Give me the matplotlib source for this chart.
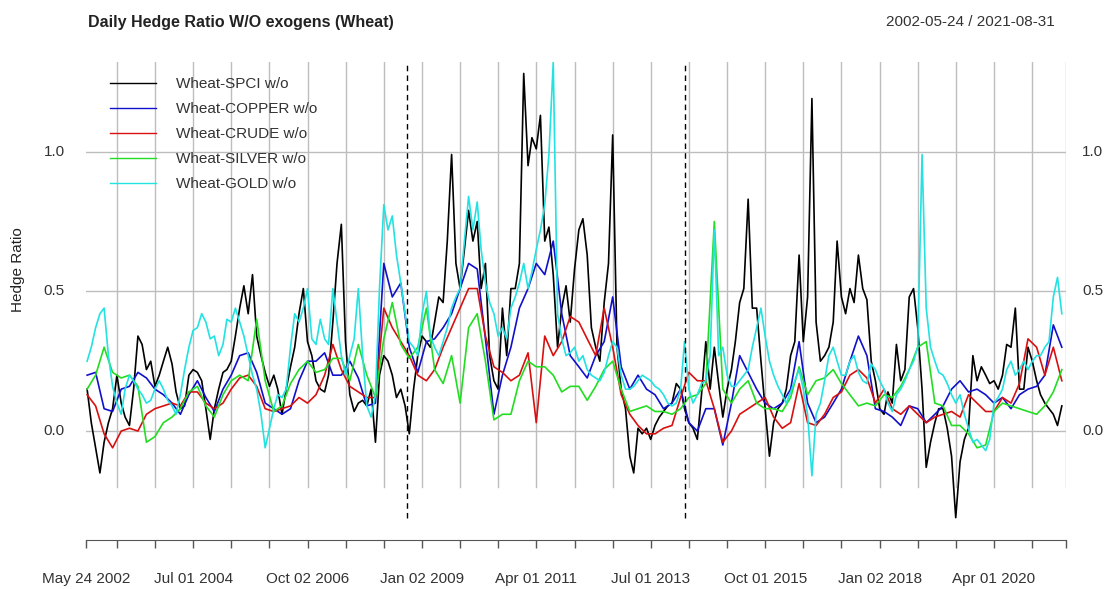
import numpy as np
import pandas as pd
import matplotlib
matplotlib.use('Agg')
import matplotlib.pyplot as plt
import matplotlib.dates as mdates

plt.rcParams['font.family'] = ['Liberation Sans', 'DejaVu Sans']

W, H = 1105, 589

# monthly observations (SPCI, GOLD) and every second month (COPPER, CRUDE, SILVER)
months = pd.date_range('2002-06-01', '2021-08-01', freq='MS')
bimonths = months[::2]

spci = [
    0.15, 0.03, -0.06, -0.15, -0.04, 0.03, 0.08, 0.20, 0.10, 0.05,
    0.02, 0.15, 0.34, 0.31, 0.22, 0.25, 0.16, 0.20, 0.25, 0.30,
    0.24, 0.14, 0.08, 0.09, 0.20, 0.22, 0.21, 0.18, 0.08, -0.03,
    0.08, 0.15, 0.21, 0.22, 0.25, 0.34, 0.44, 0.52, 0.42, 0.56,
    0.34, 0.27, 0.21, 0.16, 0.20, 0.15,
    0.06, 0.15, 0.23, 0.30, 0.42, 0.51, 0.32, 0.27, 0.18, 0.15,
    0.14, 0.20, 0.39, 0.60, 0.74, 0.32, 0.13, 0.07, 0.10, 0.11,
    0.09, 0.15, -0.04, 0.20, 0.27, 0.25, 0.20, 0.12, 0.15, 0.09,
    -0.01, 0.15, 0.27, 0.34, 0.32, 0.30, 0.39, 0.48, 0.46, 0.68,
    0.99, 0.60, 0.51, 0.65, 0.79, 0.68, 0.75,
    0.51, 0.60, 0.27, 0.18, 0.15, 0.44, 0.27, 0.51, 0.51, 0.60,
    1.28, 0.95, 1.05, 1.01, 1.13, 0.68, 0.73, 0.56, 0.30, 0.44,
    0.52, 0.39, 0.58, 0.72, 0.76, 0.63, 0.37, 0.30, 0.25, 0.46,
    0.60, 1.06, 0.30, 0.15, 0.08, -0.09, -0.15, 0.01, -0.01, 0.01,
    -0.03, 0.02, 0.05, 0.07, 0.09, 0.10,
    0.17, 0.15, 0.08, 0.03, 0.01, -0.03, 0.13, 0.32, 0.15, 0.30,
    0.17, 0.05, 0.15, 0.22, 0.32, 0.46, 0.51, 0.83, 0.44, 0.44,
    0.25, 0.08, -0.09, 0.03, 0.08, 0.10, 0.15, 0.27, 0.32, 0.63,
    0.32, 0.48, 1.19, 0.39, 0.25, 0.27, 0.30, 0.39, 0.68, 0.48,
    0.42, 0.51, 0.46, 0.63, 0.51, 0.47,
    0.25, 0.18, 0.08, 0.06, 0.14, 0.10, 0.31, 0.18, 0.22, 0.48,
    0.51, 0.37, 0.15, -0.13, -0.04, 0.03, 0.08, 0.08, 0.01, -0.09,
    -0.31, -0.11, -0.03, 0.01, 0.27, 0.18, 0.23, 0.20, 0.17, 0.18,
    0.15, 0.20, 0.31, 0.30, 0.44, 0.15, 0.15, 0.30, 0.25, 0.18,
    0.13, 0.10, 0.08, 0.06, 0.02, 0.09,
]

gold = [
    0.25, 0.30, 0.37, 0.42, 0.44, 0.27, 0.16, 0.10, 0.06, 0.15,
    0.20, 0.18, 0.15, 0.13, 0.10, 0.11, 0.15, 0.18, 0.15, 0.11,
    0.09, 0.06, 0.13, 0.22, 0.30, 0.36, 0.37, 0.42, 0.39, 0.33,
    0.34, 0.27, 0.31, 0.40, 0.39, 0.44, 0.39, 0.34, 0.27, 0.20,
    0.15, 0.06, -0.06, 0.01, 0.08, 0.13,
    0.12, 0.15, 0.30, 0.42, 0.39, 0.44, 0.51, 0.33, 0.31, 0.40,
    0.33, 0.31, 0.51, 0.39, 0.27, 0.20, 0.27, 0.33, 0.51, 0.27,
    0.09, 0.05, 0.13, 0.51, 0.81, 0.72, 0.77, 0.63, 0.53, 0.42,
    0.32, 0.30, 0.27, 0.42, 0.50, 0.34, 0.30, 0.27, 0.32, 0.37,
    0.44, 0.48, 0.51, 0.68, 0.84, 0.72, 0.82,
    0.65, 0.53, 0.46, 0.42, 0.34, 0.37, 0.33, 0.44, 0.48, 0.53,
    0.60, 0.51, 0.57, 0.65, 0.72, 0.81, 0.99, 1.32, 0.42, 0.33,
    0.27, 0.28, 0.30, 0.25, 0.27, 0.22, 0.20, 0.19, 0.18, 0.21,
    0.27, 0.32, 0.30, 0.20, 0.15, 0.15, 0.16, 0.18, 0.20, 0.19,
    0.18, 0.16, 0.15, 0.13, 0.10, 0.09,
    0.10, 0.15, 0.32, 0.15, 0.10, 0.13, 0.17, 0.18, 0.27, 0.72,
    0.27, 0.30, 0.20, 0.16, 0.16, 0.18, 0.20, 0.22, 0.30, 0.37,
    0.44, 0.34, 0.25, 0.20, 0.16, 0.13, 0.10, 0.14, 0.18, 0.22,
    0.15, 0.06, -0.16, 0.06, 0.10, 0.18, 0.27, 0.30, 0.25, 0.20,
    0.20, 0.25, 0.27, 0.21, 0.18, 0.17,
    0.24, 0.22, 0.18, 0.15, 0.10, 0.07, 0.13, 0.15, 0.18, 0.22,
    0.25, 0.30, 0.99, 0.44, 0.30, 0.25, 0.21, 0.20, 0.17, 0.13,
    0.10, 0.13, 0.06, 0.01, -0.04, -0.03, -0.05, -0.07, -0.03, 0.10,
    0.12, 0.15, 0.22, 0.25, 0.20, 0.22, 0.25, 0.22, 0.25, 0.27,
    0.27, 0.30, 0.32, 0.48, 0.55, 0.42,
]

copper = [
    0.20, 0.21, 0.08, 0.07, 0.15, 0.16, 0.21, 0.19, 0.15, 0.13,
    0.10, 0.06, 0.13, 0.18, 0.12, 0.07, 0.15, 0.20, 0.27, 0.28,
    0.21, 0.10, 0.08,
    0.06, 0.08, 0.18, 0.25, 0.25, 0.28, 0.20, 0.20, 0.25, 0.19,
    0.09, 0.10, 0.60, 0.48, 0.53, 0.30, 0.21, 0.32, 0.33, 0.37,
    0.42, 0.51, 0.60, 0.58,
    0.33, 0.06, 0.20, 0.30, 0.44, 0.51, 0.60, 0.56, 0.68, 0.42,
    0.27, 0.23, 0.19, 0.27, 0.32, 0.48, 0.23, 0.15, 0.20, 0.15,
    0.13, 0.08, 0.10,
    0.15, 0.03, 0.00, 0.08, 0.08, -0.05, 0.10, 0.27, 0.21, 0.15,
    0.10, 0.08, 0.10, 0.15, 0.32, 0.10, 0.03, 0.05, 0.10, 0.15,
    0.25, 0.34, 0.27,
    0.08, 0.07, 0.05, 0.02, 0.09, 0.08, 0.03, 0.06, 0.09, 0.15,
    0.18, 0.14, 0.15, 0.13, 0.10, 0.12, 0.08, 0.13, 0.15, 0.16,
    0.20, 0.38, 0.30,
]

crude = [
    0.13, 0.09, -0.01, -0.06, 0.00, 0.01, 0.00, 0.06, 0.08, 0.09,
    0.10, 0.09, 0.14, 0.14, 0.10, 0.08, 0.10, 0.15, 0.19, 0.20,
    0.16, 0.08, 0.07,
    0.08, 0.09, 0.12, 0.10, 0.13, 0.20, 0.31, 0.22, 0.16, 0.14,
    0.12, 0.12, 0.44, 0.37, 0.32, 0.27, 0.20, 0.18, 0.22, 0.30,
    0.37, 0.44, 0.51, 0.51,
    0.34, 0.23, 0.21, 0.18, 0.20, 0.28, 0.03, 0.34, 0.27, 0.32,
    0.41, 0.39, 0.33, 0.27, 0.44, 0.30, 0.13, 0.06, 0.02, -0.01,
    -0.01, 0.01, 0.02,
    0.12, 0.21, 0.18, 0.18, 0.08, -0.04, 0.00, 0.06, 0.08, 0.10,
    0.12, 0.05, 0.01, 0.03, 0.17, 0.03, 0.02, 0.06, 0.12, 0.14,
    0.20, 0.22, 0.19,
    0.10, 0.15, 0.08, 0.06, 0.09, 0.06, 0.03, 0.05, 0.06, 0.07,
    0.05, 0.13, 0.10, 0.07, 0.07, 0.12, 0.10, 0.17, 0.33, 0.30,
    0.20, 0.30, 0.18,
]

silver = [
    0.15, 0.20, 0.30, 0.21, 0.19, 0.20, 0.16, -0.04, -0.02, 0.03,
    0.05, 0.08, 0.14, 0.16, 0.09, 0.05, 0.13, 0.18, 0.20, 0.18,
    0.40, 0.18, 0.07,
    0.09, 0.17, 0.22, 0.25, 0.21, 0.22, 0.26, 0.26, 0.18, 0.31,
    0.20, 0.12, 0.33, 0.46, 0.31, 0.26, 0.30, 0.44, 0.22, 0.17,
    0.27, 0.10, 0.37, 0.42,
    0.25, 0.04, 0.06, 0.06, 0.18, 0.25, 0.23, 0.23, 0.20, 0.14,
    0.16, 0.16, 0.11, 0.16, 0.22, 0.25, 0.15, 0.07, 0.08, 0.09,
    0.07, 0.07, 0.06,
    0.08, 0.12, 0.13, 0.17, 0.75, 0.15, 0.10, 0.15, 0.18, 0.10,
    0.08, 0.08, 0.07, 0.12, 0.23, 0.13, 0.18, 0.19, 0.22, 0.17,
    0.13, 0.09, 0.10,
    0.09, 0.13, 0.12, 0.16, 0.22, 0.30, 0.32, 0.10, 0.09, 0.02,
    0.02, -0.01, -0.06, -0.05, 0.07, 0.10, 0.09, 0.08, 0.07, 0.06,
    0.09, 0.14, 0.22,
]

series = [
    ('Wheat-SPCI w/o', months, spci, '#000000'),
    ('Wheat-COPPER w/o', bimonths, copper, '#1010cc'),
    ('Wheat-CRUDE w/o', bimonths, crude, '#d81010'),
    ('Wheat-SILVER w/o', bimonths, silver, '#22dd22'),
    ('Wheat-GOLD w/o', months, gold, '#22e2e2'),
]

events = ['2008-09-15', '2014-03-03']
label_dates = ['2002-05-24', '2004-07-01', '2006-10-02', '2009-01-02', '2011-04-01',
               '2013-07-01', '2015-10-01', '2018-01-02', '2020-04-01']
tick_labels = ['May 24 2002', 'Jul 01 2004', 'Oct 02 2006', 'Jan 02 2009', 'Apr 01 2011',
               'Jul 01 2013', 'Oct 01 2015', 'Jan 02 2018', 'Apr 01 2020']
start, end = pd.Timestamp('2002-05-24'), pd.Timestamp('2021-08-31')

fig = plt.figure(figsize=(W / 100, H / 100), dpi=100)
ax = fig.add_axes([86 / W, (H - 540) / H, 980 / W, (540 - 62) / H])
ymin, ymax = -0.39, 1.321
ax.set_ylim(ymin, ymax)
ax.set_xlim(start, end)

# grid: 9-monthly verticals, horizontals at the y ticks
grid_dates = list(pd.date_range('2003-01-01', '2021-01-01', freq='9MS')) + [end]
for d in grid_dates:
    ax.plot([d, d], [-0.2, ymax], color='#bdbdbd', lw=1, zorder=1)
for y in [0.0, 0.5, 1.0]:
    ax.axhline(y, color='#bdbdbd', lw=1, zorder=1)

for name, x, y, c in series:
    ax.plot(x, y, color=c, lw=1.2, label=name, zorder=3)

for d in events:
    ax.plot([pd.Timestamp(d)] * 2, [-0.31, ymax], color='black', lw=1,
            ls=(0, (4, 3)), zorder=4)

# x axis with every ninth-month tick, every third one labelled
ticks = [start] + grid_dates
labels = []
lab = dict(zip(pd.to_datetime(label_dates[1:]).to_period('M'), tick_labels[1:]))
for t in ticks:
    if t == start:
        labels.append(tick_labels[0])
    elif t != end and t.to_period('M') in lab:
        labels.append(lab[t.to_period('M')])
    else:
        labels.append('')
ax.set_xticks(ticks)
ax.set_xticklabels(labels, fontsize=11, color='#333333')
ax.tick_params(axis='x', direction='out', length=6, width=1, color='#555555', pad=17)
ax.set_yticks([])
for s in ['top', 'left', 'right']:
    ax.spines[s].set_visible(False)
ax.spines['bottom'].set_color('#555555')

for y in [0.0, 0.5, 1.0]:
    ax.text(-21 / 980, y, f'{y:.1f}', transform=ax.get_yaxis_transform(),
            ha='right', va='center', fontsize=11, color='#333333')
    ax.text(1 + 16 / 980, y, f'{y:.1f}', transform=ax.get_yaxis_transform(),
            ha='left', va='center', fontsize=11, color='#333333')

fig.text(18 / W, 1 - 270 / H, 'Hedge Ratio', rotation=90, ha='center', va='center',
         fontsize=11, color='#222222')
fig.text(88 / W, 1 - 22 / H, 'Daily Hedge Ratio W/O exogens (Wheat)', ha='left',
         va='center', fontsize=11.5, fontweight='bold', color='#222222')
fig.text(1055 / W, 1 - 22 / H, '2002-05-24 / 2021-08-31', ha='right', va='center',
         fontsize=11, color='#333333')

leg = fig.legend(loc='upper left', bbox_to_anchor=(110 / W, 1 - 77 / H), frameon=False,
                 fontsize=11, handlelength=3.0, handletextpad=1.3, labelspacing=0.72,
                 borderpad=0, borderaxespad=0, labelcolor='#333333')
for line in leg.get_lines():
    line.set_linewidth(1.0)

fig.savefig('out.png', dpi=100)
